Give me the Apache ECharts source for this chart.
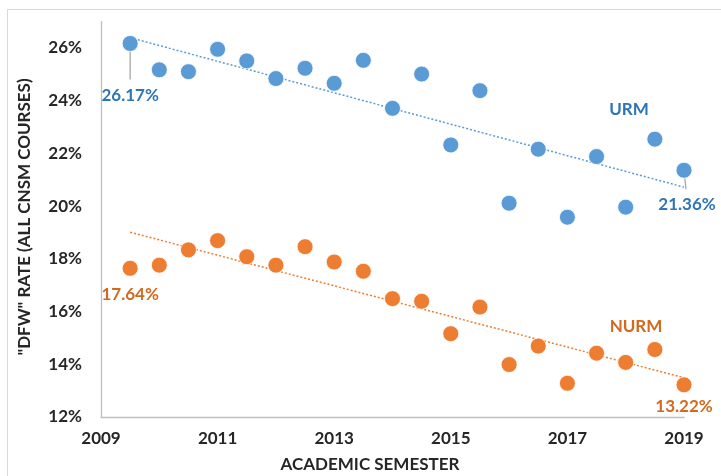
<!DOCTYPE html>
<html><head><meta charset="utf-8">
<script src="https://cdn.jsdelivr.net/npm/echarts@6/dist/echarts.min.js"></script>
<style>html,body{margin:0;padding:0;background:#fff}#c{width:721px;height:476px}</style>
</head><body><div id="c"></div>
<script>
const semesters = [2009.5, 2010, 2010.5, 2011, 2011.5, 2012, 2012.5, 2013, 2013.5, 2014, 2014.5, 2015, 2015.5, 2016, 2016.5, 2017, 2017.5, 2018, 2018.5, 2019];
const urm  = [26.17, 25.17, 25.10, 25.95, 25.51, 24.84, 25.23, 24.66, 25.53, 23.71, 25.01, 22.32, 24.38, 20.11, 22.16, 19.58, 21.88, 19.96, 22.54, 21.36];
const nurm = [17.64, 17.76, 18.34, 18.69, 18.08, 17.76, 18.46, 17.88, 17.53, 16.49, 16.39, 15.16, 16.17, 13.99, 14.69, 13.28, 14.42, 14.07, 14.56, 13.22];
const trendX = [2009.5, 2019];
const urmTrend = [26.39, 20.72];
const nurmTrend = [19.01, 13.49];
const xTicks = [2009, 2011, 2013, 2015, 2017, 2019];
const yTicks = [12, 14, 16, 18, 20, 22, 24, 26];

const BLUE = '#5B9BD5', ORANGE = '#ED7D31', BLUE_T = '#2E75B6', ORANGE_T = '#D2691E';
const FONT = 'Lato';
const FS = 17;

function pts(vals, labelCfg) {
  return semesters.map((x, i) => {
    const item = { value: [x, vals[i]] };
    if (labelCfg[i]) item.label = labelCfg[i];
    return item;
  });
}
const lblBase = { show: true, position: 'bottom', fontFamily: FONT, fontWeight: 'bold', fontSize: FS, formatter: p => p.value[1].toFixed(2) + '%' };

const urmLabels = {};
urmLabels[0] = Object.assign({}, lblBase, { color: BLUE_T, distance: 35 });
urmLabels[urm.length - 1] = Object.assign({}, lblBase, { color: BLUE_T, distance: 17, offset: [3, 0] });
const nurmLabels = {};
nurmLabels[0] = Object.assign({}, lblBase, { color: ORANGE_T, distance: 9 });
nurmLabels[nurm.length - 1] = Object.assign({}, lblBase, { color: ORANGE_T, distance: 5 });

const chart = echarts.init(document.getElementById('c'), null, { renderer: 'canvas' });
const baseGraphic = [
  { type: 'rect', silent: true, z: -1, shape: { x: 7.5, y: 9.5, width: 760, height: 520 }, style: { fill: 'none', stroke: '#D9D9D9', lineWidth: 1 } },
  { type: 'text', x: 24.5, y: 217, rotation: Math.PI / 2, style: { text: '"DFW" RATE (ALL CNSM COURSES)', fill: '#262626', font: 'bold ' + FS + 'px ' + FONT, align: 'center', verticalAlign: 'middle' } },
  { type: 'text', x: 370, y: 465, style: { text: 'ACADEMIC SEMESTER', fill: '#262626', font: 'bold ' + FS + 'px ' + FONT, align: 'center', verticalAlign: 'middle' } },
  { type: 'text', x: 629, y: 110, style: { text: 'URM', fill: BLUE_T, font: 'bold ' + FS + 'px ' + FONT, align: 'center', verticalAlign: 'middle' } },
  { type: 'text', x: 636, y: 327, style: { text: 'NURM', fill: ORANGE_T, font: 'bold ' + FS + 'px ' + FONT, align: 'center', verticalAlign: 'middle' } }
];
chart.setOption({
  animation: false,
  backgroundColor: '#fff',
  grid: { left: 101, right: 37, top: 21.6, bottom: 59 },
  xAxis: {
    type: 'value', min: xTicks[0], max: xTicks[xTicks.length - 1], interval: 2,
    splitLine: { show: false }, axisTick: { show: false },
    axisLine: { lineStyle: { color: '#BFBFBF', width: 1.3 } },
    axisLabel: { color: '#262626', fontFamily: FONT, fontWeight: 'bold', fontSize: FS, margin: 13, formatter: v => String(v) }
  },
  yAxis: {
    type: 'value', min: yTicks[0], max: 27, interval: 2,
    splitLine: { show: false }, axisTick: { show: false },
    axisLine: { show: true, lineStyle: { color: '#BFBFBF', width: 1.3 } },
    axisLabel: { color: '#262626', fontFamily: FONT, fontWeight: 'bold', fontSize: FS, margin: 19, showMaxLabel: false, formatter: v => v + '%' }
  },
  graphic: baseGraphic,
  series: [
    { type: 'line', data: trendX.map((x, i) => [x, urmTrend[i]]), symbol: 'none', z: 1,
      lineStyle: { color: BLUE, width: 1.5, type: [2, 2] } },
    { type: 'line', data: trendX.map((x, i) => [x, nurmTrend[i]]), symbol: 'none', z: 1,
      lineStyle: { color: ORANGE, width: 1.5, type: [2, 2] } },
    { type: 'scatter', name: 'URM', symbolSize: 16, z: 3, data: pts(urm, urmLabels),
      itemStyle: { color: BLUE, borderColor: '#fff', borderWidth: 0.8, opacity: 1 } },
    { type: 'scatter', name: 'NURM', symbolSize: 16, z: 3, data: pts(nurm, nurmLabels),
      itemStyle: { color: ORANGE, borderColor: '#fff', borderWidth: 0.8, opacity: 1 } }
  ]
});

// leader lines from data points to their labels (pixel positions from the chart's own scales)
function leader(x, y, dx, len) {
  const p = chart.convertToPixel({ gridIndex: 0 }, [x, y]);
  return { type: 'line', z: 2, silent: true, shape: { x1: p[0], y1: p[1], x2: p[0] + dx, y2: p[1] + len }, style: { stroke: '#A6A6A6', lineWidth: 1.3 } };
}
const n = semesters.length - 1;
chart.setOption({
  graphic: baseGraphic.concat([
    leader(semesters[0], urm[0], 0, 36),
    leader(semesters[n], urm[n], 2, 19),
    leader(semesters[n], nurm[n], 0, 7)
  ])
});
</script></body></html>
